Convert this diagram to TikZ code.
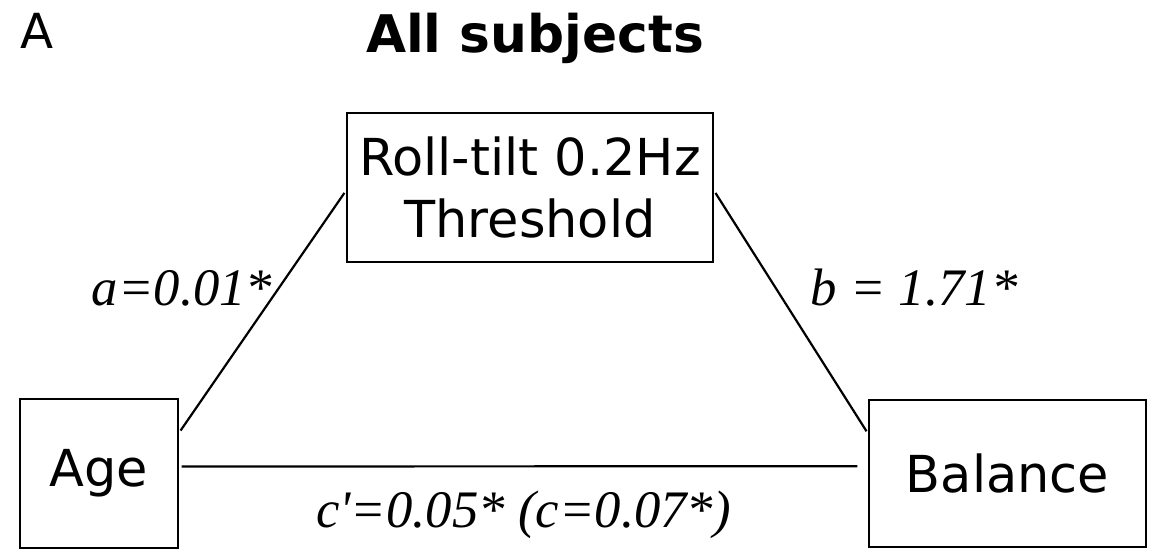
\documentclass[tikz,border=0pt]{standalone}
\usepackage{fontspec}
\usepackage{xcolor}
\usetikzlibrary{positioning}
\newfontfamily\boxfont{DejaVu Sans}
\newfontfamily\coeffont{Liberation Serif}
\tikzset{
  varbox/.style={draw, line width=1.25pt, inner sep=0pt, align=center,
    font=\boxfont\fontsize{29}{35.7}\selectfont},
  coef/.style={anchor=base, inner sep=0pt, font=\coeffont\itshape\fontsize{30}{36}\selectfont},
  link/.style={line width=1.25pt, shorten <=1.5pt, shorten >=1.5pt}
}

\begin{document}
\begin{tikzpicture}[x=0.02cm, y=-0.02cm]
                \useasboundingbox (0,0) rectangle (1153,556);
                \node[anchor=base west, inner sep=0pt, font=\boxfont\fontsize{27.5}{33}\selectfont] (panel) at (20,48) {A};
                \node[anchor=base, inner sep=0pt, font=\boxfont\bfseries\fontsize{29.5}{35}\selectfont] (title) at (535,52) {All subjects};
                \node[varbox, minimum width=7.32cm, minimum height=2.98cm] (tilt) at (530,187.5) {Roll-tilt 0.2Hz\\Threshold};
                \node[varbox, minimum width=3.16cm, minimum height=2.98cm] (age)  at (99,473.5) {Age};
                \node[varbox, minimum width=5.54cm, minimum height=2.94cm] (bal)  at (1007.5,473.5) {Balance};
                \draw[link] (age.27) -- (tilt.181);
                \draw[link] (tilt.-1) -- (bal.164);
                \draw[link, shorten >=6pt] (age.5) -- (bal.177);
                \node[coef] (acoef) at (182,305) {a=0.01*};
                \node[coef] (bcoef) at (914,305) {b = 1.71*};
                \node[coef] (ccoef) at (523.5,527) {c\symbol{"27}=0.05* (c=0.07*)};
            \end{tikzpicture}
\end{document}
